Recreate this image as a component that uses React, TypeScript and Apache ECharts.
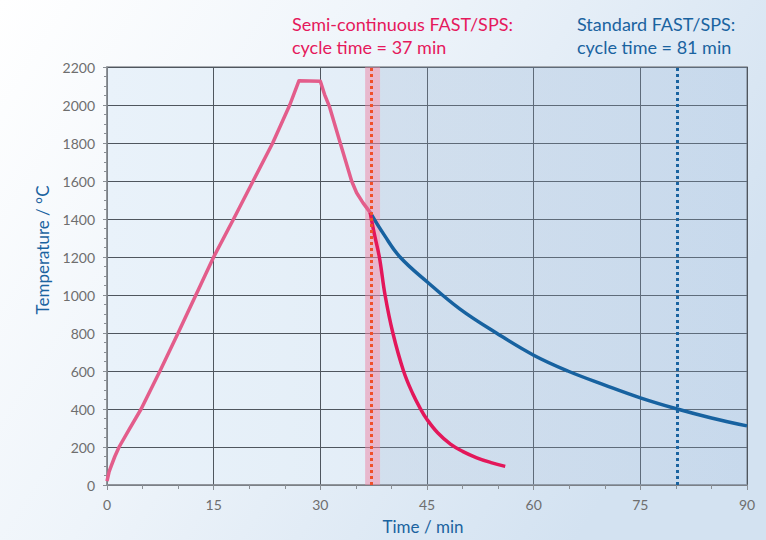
import React, { useEffect, useRef } from "react";
import * as echarts from "echarts";

// Heating stage (shared by both processes)
const heatTime = [0, 0.3, 0.65, 1.1, 1.7, 3, 4.8, 7.45, 10, 12.5, 15, 17.8, 20.55, 23.3, 25.7, 27, 28.5, 30, 30.6, 31.3, 32.8, 34.4, 35.1, 36, 37];
const heatTemp = [20, 70, 106, 150, 200, 285, 400, 600, 800, 1000, 1200, 1400, 1600, 1800, 2000, 2128, 2126, 2125, 2055, 1990, 1800, 1600, 1538, 1485, 1435];

// Semi-continuous FAST/SPS cooling
const semiTime = [37, 37.6, 38.3, 39.1, 40.2, 41.7, 43, 44.1, 45, 46.5, 48.3, 50, 52, 54, 56];
const semiTemp = [1435, 1320, 1200, 1000, 800, 600, 480, 400, 345, 275, 215, 177, 143, 118, 98];

// Standard FAST/SPS cooling
const stdTime = [37, 39, 41.2, 45, 49.6, 54.75, 60, 64.8, 70, 75, 80.2, 85, 90];
const stdTemp = [1435, 1315, 1200, 1070, 927, 800, 683, 600, 526, 459, 400, 353, 311];

const semiCycle = 37.2;
const semiBand = [36.3, 38.4];
const stdCycle = 80.2;

const xTicks = [0, 15, 30, 45, 60, 75, 90];
const yMax = 2200;

const pair = (xs: number[], ys: number[]) => xs.map((x, i) => [x, ys[i]]);

export default function App() {
  const ref = useRef<HTMLDivElement>(null);
  useEffect(() => {
    if (!ref.current) return;
    const chart = echarts.init(ref.current, undefined, { renderer: "svg" });
    const font = "Lato";
    chart.setOption({
      animation: false,
      backgroundColor: new echarts.graphic.LinearGradient(0, 0, 1, 0.45, [
        { offset: 0, color: "#ffffff" },
        { offset: 0.45, color: "#eef4fa" },
        { offset: 1, color: "#d3e2f1" },
      ]),
      textStyle: { fontFamily: font },
      grid: {
        left: 107,
        right: 19,
        top: 67,
        bottom: 53,
        show: true,
        borderColor: "#8e9398",
        borderWidth: 1.5,
        backgroundColor: new echarts.graphic.LinearGradient(0, 0, 1, 0, [
          { offset: 0, color: "#e9f2fa" },
          { offset: 1, color: "#dbe7f3" },
        ]),
      },
      graphic: [
        {
          type: "text",
          left: 292,
          top: 12,
          style: {
            text: "Semi-continuous FAST/SPS:\ncycle time = 37 min",
            fill: "#e5195c",
            font: `18px ${font}`,
            lineHeight: 23,
          },
        },
        {
          type: "text",
          left: 577,
          top: 12,
          style: {
            text: "Standard FAST/SPS:\ncycle time = 81 min",
            fill: "#1a63a0",
            font: `18px ${font}`,
            lineHeight: 23,
          },
        },
      ],
      xAxis: {
        type: "value",
        min: 0,
        max: 90,
        interval: 15,
        name: "Time / min",
        nameLocation: "middle",
        nameGap: 33,
        nameTextStyle: { color: "#1a63a0", fontSize: 17, fontFamily: font, padding: [0, 8, 0, 0] },
        axisLine: { show: true, lineStyle: { color: "#8a8f95", width: 1.5 } },
        axisTick: { show: true, length: 5, lineStyle: { color: "#8a8f95" } },
        minorTick: { show: true, splitNumber: 3, length: 4, lineStyle: { color: "#8a8f95" } },
        axisLabel: {
          color: "#6e6e6e",
          fontSize: 14,
          margin: 12,
          formatter: (v: number) => (xTicks.includes(v) ? String(v) : ""),
        },
        splitLine: { show: true, lineStyle: { color: "#4f565e", width: 1 } },
      },
      yAxis: {
        type: "value",
        min: 0,
        max: yMax,
        interval: 200,
        name: "Temperature / °C",
        nameLocation: "middle",
        nameGap: 56,
        nameTextStyle: { color: "#1a63a0", fontSize: 17, fontFamily: font, padding: [0, 0, 0, 52] },
        axisLine: { show: true, lineStyle: { color: "#8a8f95", width: 1.5 } },
        axisTick: { show: true, length: 4, lineStyle: { color: "#8a8f95" } },
        minorTick: { show: true, splitNumber: 4, length: 3, lineStyle: { color: "#8a8f95" } },
        axisLabel: { color: "#6e6e6e", fontSize: 14, margin: 12, formatter: (v: number) => String(v) },
        splitLine: { show: true, lineStyle: { color: "#4f565e", width: 1 } },
      },
      series: [
        {
          name: "Standard FAST/SPS",
          type: "line",
          data: pair(stdTime, stdTemp),
          smooth: 0.4,
          showSymbol: false,
          lineStyle: { color: "#1762a0", width: 3.5 },
          markArea: {
            silent: true,
            itemStyle: {
              color: new echarts.graphic.LinearGradient(0, 0, 1, 0, [
                { offset: 0, color: "rgba(150,175,205,0.22)" },
                { offset: 1, color: "rgba(140,175,215,0.25)" },
              ]),
            },
            data: [[{ xAxis: semiBand[1] }, { xAxis: 90 }]],
          },
          markLine: {
            silent: true,
            symbol: "none",
            label: { show: false },
            lineStyle: { color: "#1a63a0", width: 3, type: [3, 3] },
            data: [{ xAxis: stdCycle }],
          },
        },
        {
          name: "Semi-continuous FAST/SPS",
          type: "line",
          data: pair(semiTime, semiTemp),
          smooth: 0.4,
          showSymbol: false,
          lineStyle: { color: "#e3175a", width: 3.5 },
          markArea: {
            silent: true,
            itemStyle: { color: "rgba(236,140,172,0.55)" },
            data: [[{ xAxis: semiBand[0] }, { xAxis: semiBand[1] }]],
          },
          markLine: {
            silent: true,
            symbol: "none",
            label: { show: false },
            lineStyle: { color: "#f0502a", width: 3, type: [3, 3] },
            data: [{ xAxis: semiCycle }],
          },
        },
        {
          name: "Heating",
          type: "line",
          data: pair(heatTime, heatTemp),
          showSymbol: false,
          lineStyle: { color: "#e35d8b", width: 3.5, join: "round" },
        },
      ],
    });
    return () => chart.dispose();
  }, []);
  return <div ref={ref} style={{ position: "absolute", left: 0, top: 0, width: 766, height: 540 }} />;
}
